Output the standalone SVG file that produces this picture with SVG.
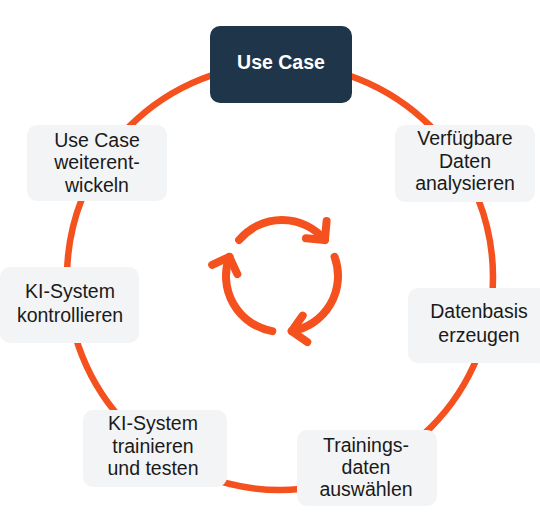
<svg xmlns="http://www.w3.org/2000/svg" width="540" height="520" viewBox="0 0 540 520">
<style>
.ring{fill:none;stroke:#f4511e;stroke-width:6.5}
.cyc{fill:none;stroke:#f4511e;stroke-width:8;stroke-linecap:round;stroke-linejoin:round}
.box{fill:#f3f4f5}
.lbl{font-family:"Liberation Sans",Arial,sans-serif;font-size:19.5px;fill:#1a1a1a;text-anchor:middle}
.title{font-family:"Liberation Sans",Arial,sans-serif;font-size:19.5px;font-weight:bold;fill:#ffffff;text-anchor:middle}
</style>
<rect width="540" height="520" fill="#ffffff"/>
<g id="connectors">
<circle class="ring" cx="280" cy="277" r="213"/>
<g id="cycle-icon">
<g id="cyc1">
<path class="cyc" d="M239.1 240 A56 56 0 0 1 324.9 240"/>
<path class="cyc" d="M326.6 221.1 L324.9 240 L306 238.3"/>
</g>
<g transform="rotate(120 282 276)">
<path class="cyc" d="M239.1 240 A56 56 0 0 1 324.9 240"/>
<path class="cyc" d="M326.6 221.1 L324.9 240 L306 238.3"/>
</g>
<g transform="rotate(240 282 276)">
<path class="cyc" d="M239.1 240 A56 56 0 0 1 324.9 240"/>
<path class="cyc" d="M326.6 221.1 L324.9 240 L306 238.3"/>
</g>
</g>
</g>
<g id="n-usecase">
<rect x="210" y="26" width="142" height="77" rx="10" fill="#1f364a"/>
<text class="title" x="281" y="69">Use Case</text>
</g>
<g id="n-analysieren">
<rect class="box" x="395" y="125" width="140" height="77" rx="10"/>
<text class="lbl" x="465" y="145">Verfügbare</text>
<text class="lbl" x="465" y="167.5">Daten</text>
<text class="lbl" x="465" y="190">analysieren</text>
</g>
<g id="n-datenbasis">
<rect class="box" x="408" y="288" width="140" height="75" rx="10"/>
<text class="lbl" x="479" y="318">Datenbasis</text>
<text class="lbl" x="479" y="342">erzeugen</text>
</g>
<g id="n-trainingsdaten">
<rect class="box" x="297" y="430" width="140" height="76" rx="10"/>
<text class="lbl" x="366" y="452">Trainings-</text>
<text class="lbl" x="366" y="474">daten</text>
<text class="lbl" x="366" y="496">auswählen</text>
</g>
<g id="n-trainieren">
<rect class="box" x="83" y="410" width="144" height="77" rx="10"/>
<text class="lbl" x="153" y="430">KI-System</text>
<text class="lbl" x="153" y="453">trainieren</text>
<text class="lbl" x="153" y="475">und testen</text>
</g>
<g id="n-kontrollieren">
<rect class="box" x="0" y="267" width="139" height="76" rx="10"/>
<text class="lbl" x="70" y="298">KI-System</text>
<text class="lbl" x="70" y="322">kontrollieren</text>
</g>
<g id="n-weiterentwickeln">
<rect class="box" x="27" y="125" width="140" height="76" rx="10"/>
<text class="lbl" x="97" y="146.5">Use Case</text>
<text class="lbl" x="97" y="169">weiterent-</text>
<text class="lbl" x="97" y="191.5">wickeln</text>
</g>
</svg>
